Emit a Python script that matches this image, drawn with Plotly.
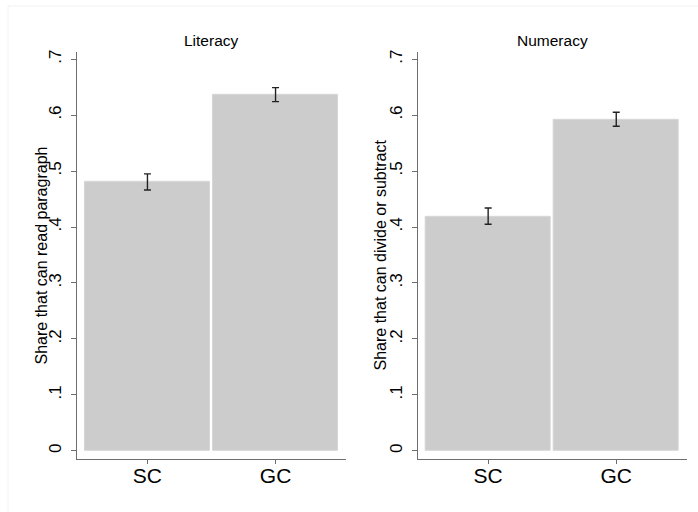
import plotly.graph_objects as go

# Groups and estimated shares with 95% confidence bounds
categories = ["SC", "GC"]

literacy_share = [0.481, 0.637]
literacy_low = [0.466, 0.624]
literacy_high = [0.495, 0.649]

numeracy_share = [0.419, 0.592]
numeracy_low = [0.405, 0.580]
numeracy_high = [0.434, 0.605]

y_tick_vals = [0, 0.1, 0.2, 0.3, 0.4, 0.5, 0.6, 0.7]
y_tick_text = ["0", ".1", ".2", ".3", ".4", ".5", ".6", ".7"]

panels = [
    ("Literacy", "Share that can read paragraph", literacy_share, literacy_low, literacy_high),
    ("Numeracy", "Share that can divide or subtract", numeracy_share, numeracy_low, numeracy_high),
]

W, H = 698, 512
FONT = "Liberation Sans, Arial, Helvetica, sans-serif"
AXIS_COLOR = "#6e6e6e"

# pixel extents of each panel's plot area
x_domains_px = [(77, 346), (417.7, 686.7)]
y_domain_px = (50, 459)  # top, bottom
y_title_x_px = [42, 381]

fig = go.Figure()
layout = {}

for i, (title, ytitle, share, low, high) in enumerate(panels):
    suffix = "" if i == 0 else str(i + 1)
    xa, ya = "x" + suffix, "y" + suffix
    err_plus = [h - s for s, h in zip(share, high)]
    err_minus = [s - l for s, l in zip(share, low)]
    fig.add_trace(go.Bar(
        x=categories, y=share, xaxis=xa, yaxis=ya, width=0.97,
        marker=dict(color="#cccccc", line=dict(color="#d6d6d6", width=1)),
        error_y=dict(type="data", array=err_plus, arrayminus=err_minus,
                     color="#222222", thickness=1.4, width=3.5),
        showlegend=False, hoverinfo="skip",
    ))
    x0, x1 = x_domains_px[i]
    layout["xaxis" + suffix] = dict(
        domain=[x0 / W, x1 / W], anchor=ya, type="category",
        range=[-0.55, 1.55], showline=True, linecolor=AXIS_COLOR, linewidth=1.3,
        ticks="outside", ticklen=4, tickcolor=AXIS_COLOR, tickwidth=1,
        ticklabelstandoff=-7,
        showgrid=False, zeroline=False,
        tickfont=dict(family=FONT, size=21, color="#000000"),
    )
    layout["yaxis" + suffix] = dict(
        domain=[(H - y_domain_px[1]) / H, (H - y_domain_px[0]) / H], anchor=xa,
        range=[-0.0148, 0.713], showline=True, linecolor=AXIS_COLOR, linewidth=1.3,
        ticks="outside", ticklen=5, tickcolor=AXIS_COLOR, tickwidth=1,
        tickvals=y_tick_vals, ticktext=y_tick_text, tickangle=-90,
        ticklabelstandoff=3,
        showgrid=False, zeroline=False,
        tickfont=dict(family=FONT, size=17, color="#000000"),
    )
    fig.add_annotation(
        text=title, xref="paper", yref="paper",
        x=(x0 + x1) / 2 / W, y=(H - 39) / H, xanchor="center", yanchor="middle",
        showarrow=False, font=dict(family=FONT, size=15.5, color="#000000"),
    )
    fig.add_annotation(
        text=ytitle, xref="paper", yref="paper", textangle=-90,
        x=y_title_x_px[i] / W, y=(H - (y_domain_px[0] + y_domain_px[1]) / 2) / H,
        xanchor="center", yanchor="middle",
        showarrow=False, font=dict(family=FONT, size=16, color="#000000"),
    )

# faint outer frame of the graph region
fig.add_shape(type="rect", xref="paper", yref="paper",
              x0=8 / W, x1=1.02, y0=-0.02, y1=(H - 4) / H,
              line=dict(color="#f2f2f2", width=1), fillcolor="rgba(0,0,0,0)")

fig.update_layout(
    width=W, height=H, margin=dict(l=0, r=0, t=0, b=0),
    paper_bgcolor="white", plot_bgcolor="white",
    bargap=0, **layout,
)

fig.write_html("out.html")
